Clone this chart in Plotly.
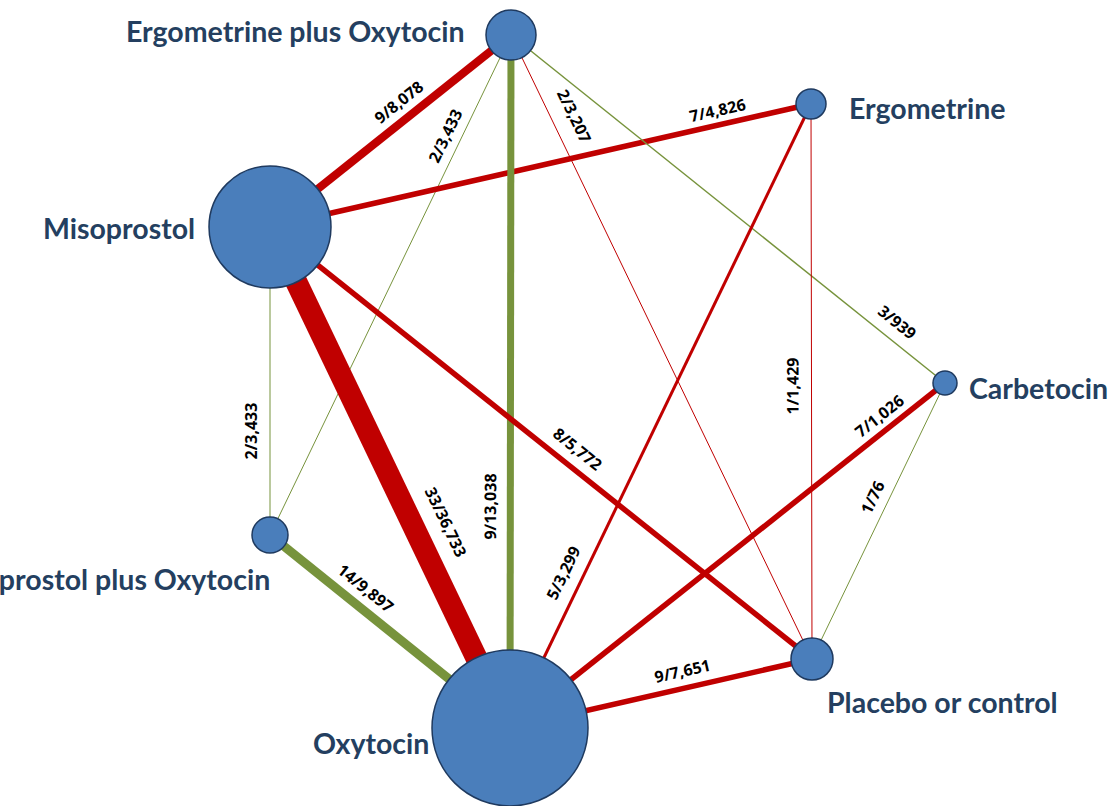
import math
import plotly.graph_objects as go

# ---------------- data ----------------
treatments = ["Ergometrine plus Oxytocin", "Ergometrine", "Misoprostol", "Carbetocin",
              "Misoprostol plus Oxytocin", "Oxytocin", "Placebo or control"]

edge_from = ["Misoprostol", "Ergometrine plus Oxytocin", "Ergometrine plus Oxytocin",
             "Misoprostol", "Ergometrine plus Oxytocin", "Misoprostol", "Misoprostol",
             "Ergometrine plus Oxytocin", "Misoprostol", "Oxytocin", "Ergometrine",
             "Oxytocin", "Placebo or control", "Misoprostol plus Oxytocin", "Oxytocin"]
edge_to = ["Ergometrine plus Oxytocin", "Misoprostol plus Oxytocin", "Placebo or control",
           "Ergometrine", "Carbetocin", "Misoprostol plus Oxytocin", "Oxytocin",
           "Oxytocin", "Placebo or control", "Ergometrine", "Placebo or control",
           "Carbetocin", "Carbetocin", "Oxytocin", "Placebo or control"]
edge_trials = [9, 2, 2, 7, 3, 2, 33, 9, 8, 5, 1, 7, 1, 14, 9]
edge_participants = [8078, 3433, 3207, 4826, 939, 3433, 36733, 13038, 5772, 3299,
                     1429, 1026, 76, 9897, 7651]

# ---------------- layout / style ----------------
node_x = {"Ergometrine plus Oxytocin": 511, "Ergometrine": 811, "Misoprostol": 270,
          "Carbetocin": 945, "Misoprostol plus Oxytocin": 270, "Oxytocin": 510,
          "Placebo or control": 812}
node_y = {"Ergometrine plus Oxytocin": 35, "Ergometrine": 104, "Misoprostol": 227,
          "Carbetocin": 383, "Misoprostol plus Oxytocin": 535, "Oxytocin": 728,
          "Placebo or control": 659}
node_r = {"Ergometrine plus Oxytocin": 25, "Ergometrine": 15, "Misoprostol": 61,
          "Carbetocin": 12, "Misoprostol plus Oxytocin": 18, "Oxytocin": 78,
          "Placebo or control": 21}
# label placement: (dx, dy, xanchor) relative to node centre
node_label = {"Ergometrine plus Oxytocin": (-44, -4, "right"),
              "Ergometrine": (36, 4, "left"),
              "Misoprostol": (-73, 1, "right"),
              "Carbetocin": (22, 5, "left"),
              "Misoprostol plus Oxytocin": (2, 44, "right"),
              "Oxytocin": (-79, 15, "right"),
              "Placebo or control": (13, 43, "left")}

RED = "#C00000"
GREEN = "#77933C"
edge_color = [RED, GREEN, RED, RED, GREEN, GREEN, RED, GREEN, RED, RED, RED, RED,
              GREEN, GREEN, RED]
edge_width = [8, 1, 1, 5.5, 1.5, 1, 22, 7, 5.5, 3, 1, 5.5, 1, 9, 5.5]
label_t = [0.58, 0.214, 0.145, 0.834, 0.864, 0.664, 0.616, 0.68, 0.547, 0.236,
           0.508, 0.87, 0.5625, 0.349, 0.5825]
label_off = [18, 15, 22, 15, 18, 19, 31, 20, 18, 19, 19, 15, 16, 19, 17]

W, H = 1117, 806
fig = go.Figure()

annotations = []
for i in range(len(edge_from)):
    a, b = edge_from[i], edge_to[i]
    x0, y0, x1, y1 = node_x[a], node_y[a], node_x[b], node_y[b]
    fig.add_trace(go.Scatter(x=[x0, x1], y=[y0, y1], mode="lines",
                             line=dict(color=edge_color[i], width=edge_width[i]),
                             hoverinfo="skip", showlegend=False))
    dx, dy = x1 - x0, y1 - y0
    ang = math.degrees(math.atan2(dy, dx))
    while ang >= 88:
        ang -= 180
    while ang < -92:
        ang += 180
    th = math.radians(ang)
    ux, uy = math.sin(th), -math.cos(th)
    t = label_t[i]
    px = x0 + t * dx + label_off[i] * ux
    py = y0 + t * dy + label_off[i] * uy
    annotations.append(dict(x=px, y=py, xref="x", yref="y", showarrow=False,
                            text=f"<b>{edge_trials[i]}/{edge_participants[i]:,}</b>",
                            textangle=ang, xanchor="center", yanchor="middle",
                            font=dict(family="Open Sans", size=16, color="#000000")))

fig.add_trace(go.Scatter(
    x=[node_x[n] for n in treatments], y=[node_y[n] for n in treatments],
    mode="markers",
    marker=dict(size=[2 * node_r[n] for n in treatments], color="#4A7EBB",
                line=dict(color="#1F3A5F", width=1.5), opacity=1),
    hovertext=treatments, hoverinfo="text", showlegend=False))

for n in treatments:
    dx, dy, anc = node_label[n]
    annotations.append(dict(x=node_x[n] + dx, y=node_y[n] + dy, xref="x", yref="y",
                            showarrow=False, text=f"<b>{n}</b>", xanchor=anc,
                            yanchor="middle",
                            font=dict(family="Lato", size=28.5, color="#243F60")))

fig.update_layout(
    width=W, height=H, margin=dict(l=0, r=0, t=0, b=0),
    paper_bgcolor="white", plot_bgcolor="white",
    xaxis=dict(range=[0, W], visible=False, fixedrange=True),
    yaxis=dict(range=[H, 0], visible=False, fixedrange=True),
    annotations=annotations, showlegend=False)

fig.write_html("out.html", config={"displayModeBar": False},
               post_script="document.body.style.margin='0';document.body.style.overflow='hidden';")
